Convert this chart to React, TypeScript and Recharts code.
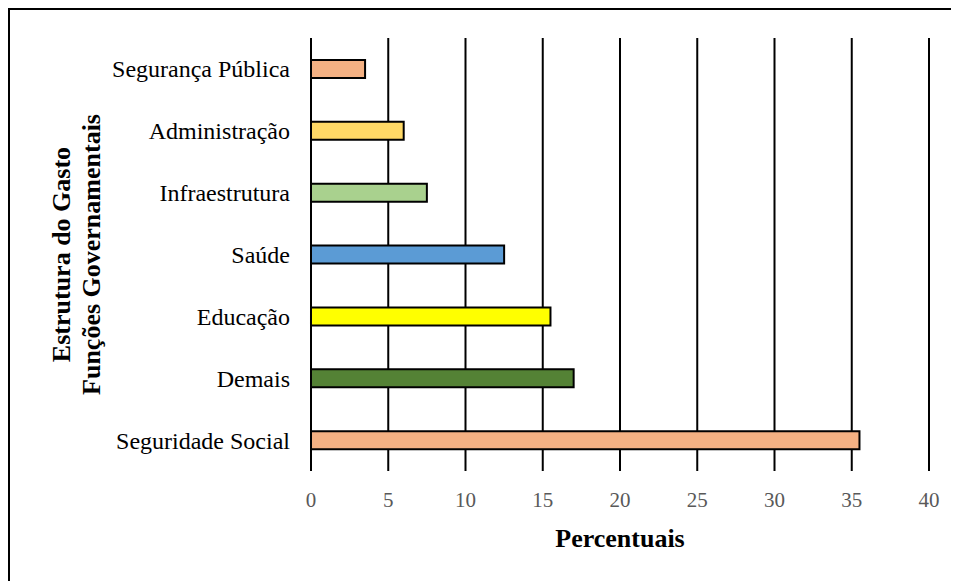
import React from "react";
import { BarChart, Bar, XAxis, YAxis, CartesianGrid, Cell } from "recharts";

// Government spending structure by function (percent of total)
const categories = [
  "Segurança Pública",
  "Administração",
  "Infraestrutura",
  "Saúde",
  "Educação",
  "Demais",
  "Seguridade Social",
];
const percentuais = [3.5, 6, 7.5, 12.5, 15.5, 17, 35.5];
const barColors = ["#F4B183", "#FFD966", "#A9D18E", "#5B9BD5", "#FFFF00", "#548235", "#F4B183"];
const xTicks = [0, 5, 10, 15, 20, 25, 30, 35, 40];
const xTitle = "Percentuais";
const yTitleLines = ["Estrutura do Gasto", "Funções Governamentais"];

const data = categories.map((name, i) => ({ name, value: percentuais[i] }));

const FONT = "'Liberation Serif', 'Times New Roman', serif";

const XTitle = (props: any) => {
  const vb = props.viewBox || {};
  const cx = (vb.x ?? 0) + (vb.width ?? 0) / 2;
  const top = vb.y ?? 0;
  return (
    <text
      x={cx}
      y={top + 67}
      textAnchor="middle"
      dominantBaseline="central"
      fontFamily={FONT}
      fontSize={26}
      fontWeight="bold"
      fill="#000"
    >
      {xTitle}
    </text>
  );
};

const YTitle = (props: any) => {
  const vb = props.viewBox || {};
  const cy = (vb.y ?? 0) + (vb.height ?? 0) / 2;
  const xs = [51, 81];
  return (
    <g>
      {yTitleLines.map((line, i) => (
        <text
          key={line}
          x={xs[i]}
          y={cy}
          transform={`rotate(-90 ${xs[i]} ${cy})`}
          textAnchor="middle"
          dominantBaseline="central"
          fontFamily={FONT}
          fontSize={26}
          fontWeight="bold"
          fill="#000"
        >
          {line}
        </text>
      ))}
    </g>
  );
};

export default function App() {
  return (
    <div
      style={{
        width: 951,
        height: 573,
        borderTop: "2px solid #000",
        borderLeft: "2px solid #000",
        boxSizing: "border-box",
        background: "#fff",
      }}
    >
      <BarChart
        width={949}
        height={571}
        layout="vertical"
        data={data}
        margin={{ top: 28, right: 30, bottom: 0, left: 0 }}
        barCategoryGap="0%"
      >
        <CartesianGrid horizontal={false} stroke="#000" strokeWidth={2} />
        <XAxis
          type="number"
          domain={[0, 40]}
          ticks={xTicks}
          interval={0}
          height={110}
          axisLine={false}
          tickLine={false}
          tickSize={6}
          tickMargin={15}
          tick={{ fontFamily: FONT, fontSize: 21, fill: "#595959" }}
          label={<XTitle />}
        />
        <YAxis
          type="category"
          dataKey="name"
          width={301}
          axisLine={false}
          tickLine={false}
          tickSize={6}
          tickMargin={15}
          interval={0}
          tick={{ fontFamily: FONT, fontSize: 24, fill: "#000" }}
          label={<YTitle />}
        />
        <Bar dataKey="value" barSize={18} stroke="#000" strokeWidth={2} isAnimationActive={false}>
          {data.map((d, i) => (
            <Cell key={d.name} fill={barColors[i]} />
          ))}
        </Bar>
      </BarChart>
    </div>
  );
}
